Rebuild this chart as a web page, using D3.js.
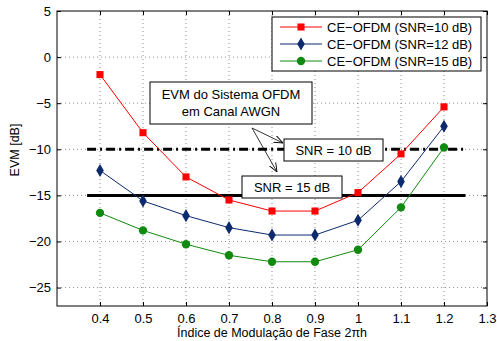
<!DOCTYPE html>
<html>
<head>
<meta charset="utf-8">
<script src="https://cdn.jsdelivr.net/npm/d3@7"></script>
<style>
  body { margin: 0; background: #fff; }
  svg { font-family: "Liberation Sans", Arial, sans-serif; }
</style>
</head>
<body>
<div id="chart"></div>
<script>
const xValues = [0.4, 0.5, 0.6, 0.7, 0.8, 0.9, 1.0, 1.1, 1.2];
const snr10 = [-1.9, -8.2, -13.0, -15.5, -16.7, -16.7, -14.7, -10.5, -5.4];
const snr12 = [-12.3, -15.6, -17.2, -18.5, -19.3, -19.3, -17.7, -13.5, -7.5];
const snr15 = [-16.9, -18.8, -20.3, -21.5, -22.2, -22.2, -20.9, -16.3, -9.8];
const seriesNames = ["CE\u2212OFDM (SNR=10 dB)", "CE\u2212OFDM (SNR=12 dB)", "CE\u2212OFDM (SNR=15 dB)"];
const xTicks = [0.4, 0.5, 0.6, 0.7, 0.8, 0.9, 1.0, 1.1, 1.2, 1.3];
const yTicks = [-25, -20, -15, -10, -5, 0, 5];
const refLevels = [-10, -15];     // AWGN reference EVM
const refRange = [0.37, 1.25];

const W = 497, H = 341;
const margin = { top: 11, right: 10, bottom: 35, left: 57 };
const width = 487 - margin.left;
const height = 306 - margin.top;

const svg = d3.select("#chart").append("svg")
  .attr("width", W).attr("height", H);
const g = svg.append("g")
  .attr("transform", `translate(${margin.left},${margin.top})`);

const x = d3.scaleLinear().domain([0.3, 1.3]).range([0, width]);
const y = d3.scaleLinear().domain([-27, 5]).range([height, 0]);

// grid
g.append("g").selectAll("line").data(xTicks.filter(d => d < 1.3)).join("line")
  .attr("x1", d => x(d)).attr("x2", d => x(d))
  .attr("y1", 0).attr("y2", height)
  .attr("stroke", "#444").attr("stroke-width", 0.6).attr("stroke-dasharray", "1,3");
g.append("g").selectAll("line").data(yTicks.filter(d => d < 5)).join("line")
  .attr("x1", 0).attr("x2", width)
  .attr("y1", d => y(d)).attr("y2", d => y(d))
  .attr("stroke", "#444").attr("stroke-width", 0.6).attr("stroke-dasharray", "1,3");

// axes
const xAxis = d3.axisBottom(x).tickValues(xTicks).tickSize(-4).tickPadding(8)
  .tickFormat(d => d3.format("")(+d.toFixed(1)));
const yAxis = d3.axisLeft(y).tickValues(yTicks).tickSize(-4).tickPadding(6)
  .tickFormat(d => d < 0 ? "\u2212" + Math.abs(d) : d);
const xa = g.append("g").attr("transform", `translate(0,${height})`).call(xAxis);
const ya = g.append("g").call(yAxis);
[xa, ya].forEach(a => {
  a.select(".domain").remove();
  a.selectAll("text").attr("font-size", 13).attr("fill", "#000")
    .style("font-family", "Liberation Sans, Arial, sans-serif");
  a.selectAll("line").attr("stroke", "#000");
});
g.append("g").attr("transform", `translate(${width},0)`)
  .call(d3.axisRight(y).tickValues(yTicks).tickSize(-4).tickFormat(""))
  .call(s => s.select(".domain").remove());
g.append("g")
  .call(d3.axisTop(x).tickValues(xTicks).tickSize(-4).tickFormat(""))
  .call(s => s.select(".domain").remove());
g.append("rect").attr("width", width).attr("height", height)
  .attr("fill", "none").attr("stroke", "#000").attr("stroke-width", 1);

// reference lines
g.append("line")
  .attr("x1", x(refRange[0])).attr("x2", x(refRange[1]))
  .attr("y1", y(refLevels[0])).attr("y2", y(refLevels[0]))
  .attr("stroke", "#000").attr("stroke-width", 3).attr("stroke-dasharray", "9,4,2,4");
g.append("line")
  .attr("x1", x(refRange[0])).attr("x2", x(refRange[1]))
  .attr("y1", y(refLevels[1])).attr("y2", y(refLevels[1]))
  .attr("stroke", "#000").attr("stroke-width", 3);

// series
const series = [
  { name: seriesNames[0], values: snr10, color: "#ff0000", symbol: d3.symbolSquare, size: 50 },
  { name: seriesNames[1], values: snr12, color: "#0d2a6e", symbol: d3.symbolDiamond, size: 50 },
  { name: seriesNames[2], values: snr15, color: "#118a11", symbol: d3.symbolCircle, size: 55 }
];
const line = d3.line().x((d, i) => x(xValues[i])).y(d => y(d));
series.forEach(s => {
  g.append("path").datum(s.values).attr("d", line)
    .attr("fill", "none").attr("stroke", s.color).attr("stroke-width", 1);
  g.selectAll(null).data(s.values).join("path")
    .attr("transform", (d, i) => `translate(${x(xValues[i])},${y(d)})`)
    .attr("d", d3.symbol().type(s.symbol).size(s.size))
    .attr("fill", s.color);
});

// annotation boxes
function box(x0, y0, x1, y1) {
  svg.append("rect").attr("x", x0).attr("y", y0)
    .attr("width", x1 - x0).attr("height", y1 - y0)
    .attr("fill", "#fff").attr("stroke", "#000").attr("stroke-width", 1);
}
box(150, 82, 312, 124);
svg.append("text").attr("x", 231).attr("y", 99).attr("text-anchor", "middle")
  .attr("font-size", 13).text("EVM do Sistema OFDM");
svg.append("text").attr("x", 231).attr("y", 116).attr("text-anchor", "middle")
  .attr("font-size", 13).text("em Canal AWGN");

// arrows
svg.append("defs").append("marker").attr("id", "ah")
  .attr("viewBox", "0 0 10 10").attr("refX", 10).attr("refY", 5)
  .attr("markerWidth", 9).attr("markerHeight", 9).attr("markerUnits", "userSpaceOnUse")
  .attr("orient", "auto")
  .append("path").attr("d", "M0,1 L10,5 L0,9").attr("fill", "none").attr("stroke", "#000");
[[283, 143], [277, 172]].forEach(p => {
  svg.append("line").attr("x1", 252).attr("y1", 128).attr("x2", p[0]).attr("y2", p[1])
    .attr("stroke", "#000").attr("stroke-width", 0.8).attr("marker-end", "url(#ah)");
});

box(284, 139, 383, 161);
svg.append("text").attr("x", 333.5).attr("y", 155).attr("text-anchor", "middle")
  .attr("font-size", 13).text("SNR = 10 dB");
box(242, 176, 342, 198);
svg.append("text").attr("x", 292).attr("y", 192).attr("text-anchor", "middle")
  .attr("font-size", 13).text("SNR = 15 dB");

// legend
const lg = svg.append("g");
lg.append("rect").attr("x", 272).attr("y", 17).attr("width", 209).attr("height", 54)
  .attr("fill", "#fff").attr("stroke", "#000").attr("stroke-width", 1);
series.forEach((s, i) => {
  const ly = 27 + i * 17;
  lg.append("line").attr("x1", 280).attr("x2", 322).attr("y1", ly).attr("y2", ly)
    .attr("stroke", s.color).attr("stroke-width", 1);
  lg.append("path").attr("transform", `translate(301,${ly})`)
    .attr("d", d3.symbol().type(s.symbol).size(s.size)).attr("fill", s.color);
  lg.append("text").attr("x", 327).attr("y", ly + 4.5).attr("font-size", 13).text(s.name);
});

// axis labels
svg.append("text").attr("x", 272).attr("y", 337).attr("text-anchor", "middle")
  .attr("font-size", 12.5).text("\u00cdndice de Modula\u00e7\u00e3o de Fase 2\u03c0h");
svg.append("text").attr("transform", "translate(19,150) rotate(-90)")
  .attr("text-anchor", "middle").attr("font-size", 12.5).text("EVM [dB]");
</script>
</body>
</html>
